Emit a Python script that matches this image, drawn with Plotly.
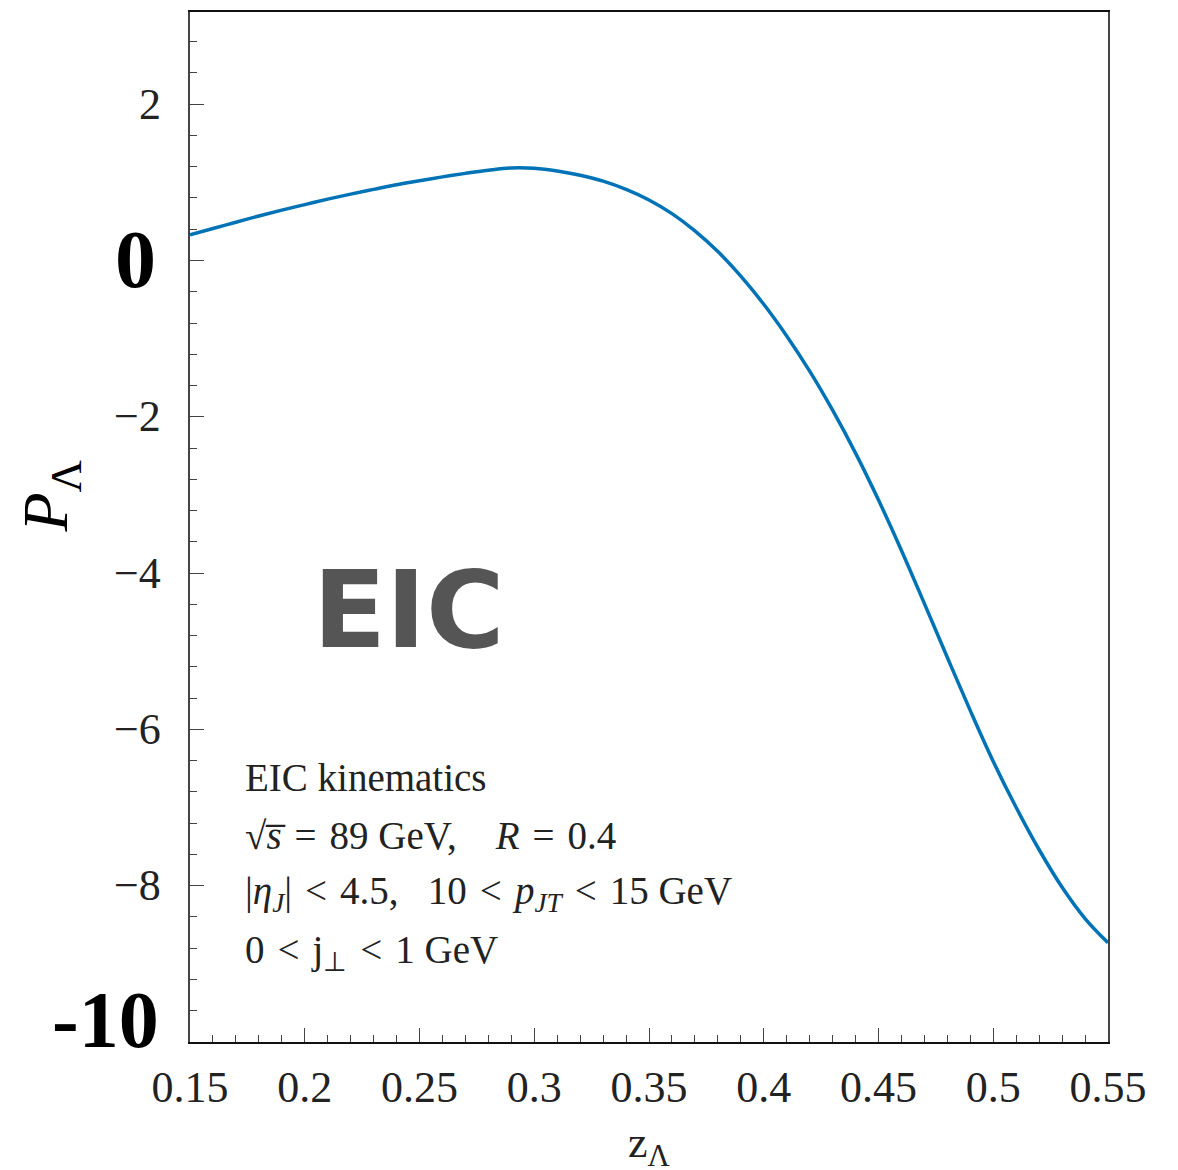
import plotly.graph_objects as go

# Lambda polarization vs. momentum fraction
z_lambda = [0.15, 0.16, 0.17, 0.18, 0.19, 0.20, 0.21, 0.22, 0.23, 0.24,
            0.25, 0.26, 0.27, 0.28, 0.29, 0.30, 0.31, 0.32, 0.33, 0.34,
            0.35, 0.36, 0.37, 0.38, 0.39, 0.40, 0.41, 0.42, 0.43, 0.44,
            0.45, 0.46, 0.47, 0.48, 0.49, 0.50, 0.51, 0.52, 0.53, 0.54, 0.55]
p_lambda = [0.33, 0.41, 0.49, 0.57, 0.645, 0.715, 0.785, 0.85, 0.91, 0.97,
            1.02, 1.07, 1.115, 1.155, 1.185, 1.18, 1.145, 1.09, 1.015, 0.91,
            0.775, 0.60, 0.38, 0.115, -0.20, -0.56, -0.965, -1.415, -1.915, -2.465,
            -3.065, -3.71, -4.39, -5.08, -5.76, -6.41, -7.00, -7.54, -8.02, -8.42, -8.73]

x_ticks = [0.15, 0.2, 0.25, 0.3, 0.35, 0.4, 0.45, 0.5, 0.55]
x_ticktext = ["0.15", "0.2", "0.25", "0.3", "0.35", "0.4", "0.45", "0.5", "0.55"]

y_ticks = [2, 0, -2, -4, -6, -8, -10]
y_ticktext = ["2", "0", "\u22122", "\u22124", "\u22126", "\u22128", "-10"]
y_tickbold = [False, True, False, False, False, False, True]

SP = "\u2004"   # math-style spacing around relations
QUAD = "\u2003"
info_lines = [
    "EIC kinematics",
    f"\u221a<i>s\u0305</i>{SP}={SP}89 GeV,{QUAD}<i>R</i>{SP}={SP}0.4",
    f"|<i>\u03b7</i><sub><i>J</i></sub>|{SP}<{SP}4.5,\u2002 10{SP}<{SP}<i>p</i><sub><i>JT</i></sub>{SP}<{SP}15 GeV",
    f"0{SP}<{SP}j<sub>\u22a5</sub>{SP}<{SP}1 GeV",
]
info_y = [-6.62, -7.36, -8.10, -8.86]

SERIF = "Liberation Serif, Times New Roman, serif"
TEXT = "#222222"

fig = go.Figure()
fig.add_trace(go.Scatter(
    x=z_lambda, y=p_lambda, mode="lines",
    line=dict(color="#0073B7", width=3.5, shape="spline", smoothing=1.0),
    showlegend=False, hoverinfo="skip",
))

fig.update_layout(
    width=1178, height=1170,
    margin=dict(l=190, r=70, t=10, b=128),
    paper_bgcolor="white", plot_bgcolor="white",
    xaxis=dict(
        range=[0.15, 0.55], tickmode="array", tickvals=x_ticks, ticktext=x_ticktext,
        ticks="inside", ticklen=14, tickwidth=1.2, tickcolor="#444",
        showline=True, linecolor="#111", linewidth=1.8, mirror=True,
        showgrid=False, zeroline=False,
        tickfont=dict(family=SERIF, size=44, color=TEXT),
        ticklabelstandoff=5,
        minor=dict(dtick=0.01, tick0=0.15, ticks="inside", ticklen=7,
                   tickwidth=1.2, tickcolor="#444", showgrid=False),
    ),
    yaxis=dict(
        range=[-10, 3.18], tickmode="array", tickvals=y_ticks,
        showticklabels=False,
        ticks="inside", ticklen=14, tickwidth=1.2, tickcolor="#444",
        showline=True, linecolor="#444", linewidth=1.8, mirror=True,
        showgrid=False, zeroline=False,
        minor=dict(dtick=0.4, tick0=0, ticks="inside", ticklen=7,
                   tickwidth=1.2, tickcolor="#444", showgrid=False),
    ),
)

# y tick labels (the 0 and -10 labels are set large and bold)
for val, txt, bold in zip(y_ticks, y_ticktext, y_tickbold):
    if bold:
        fig.add_annotation(
            x=0, xref="paper", y=val, yref="y", text=f"<b>{txt}</b>",
            showarrow=False, xanchor="right", yanchor="middle",
            xshift=-32 if val == 0 else -29, yshift=1 if val == 0 else 22,
            font=dict(family=SERIF, size=82 if val == 0 else 80, color="black"),
        )
    else:
        fig.add_annotation(
            x=0, xref="paper", y=val, yref="y", text=txt,
            showarrow=False, xanchor="right", yanchor="middle", xshift=-27,
            font=dict(family=SERIF, size=44, color=TEXT),
        )

# axis titles
fig.add_annotation(
    x=0, xref="paper", xshift=-140, y=-3.02, yref="y", text="<i>P</i><sub>\u039b</sub>",
    showarrow=False, textangle=-90, xanchor="center", yanchor="middle",
    font=dict(family=SERIF, size=64, color="black"),
)
fig.add_annotation(
    x=0.5, xref="paper", y=0, yref="paper", yshift=-103, text="z<sub>\u039b</sub>",
    showarrow=False, xanchor="center", yanchor="middle",
    font=dict(family=SERIF, size=44, color=TEXT),
)

# EIC label
fig.add_annotation(
    x=0.245, y=-4.475, xref="x", yref="y", text="<b>EIC</b>", showarrow=False,
    xanchor="center", yanchor="middle",
    font=dict(family="DejaVu Sans", size=107, color="#555555"),
)

# kinematics block
for line, yv in zip(info_lines, info_y):
    fig.add_annotation(
        x=0.1731, y=yv, xref="x", yref="y", text=line, showarrow=False,
        xanchor="left", yanchor="middle",
        font=dict(family=SERIF, size=39, color=TEXT),
    )

fig.write_html("out.html")
